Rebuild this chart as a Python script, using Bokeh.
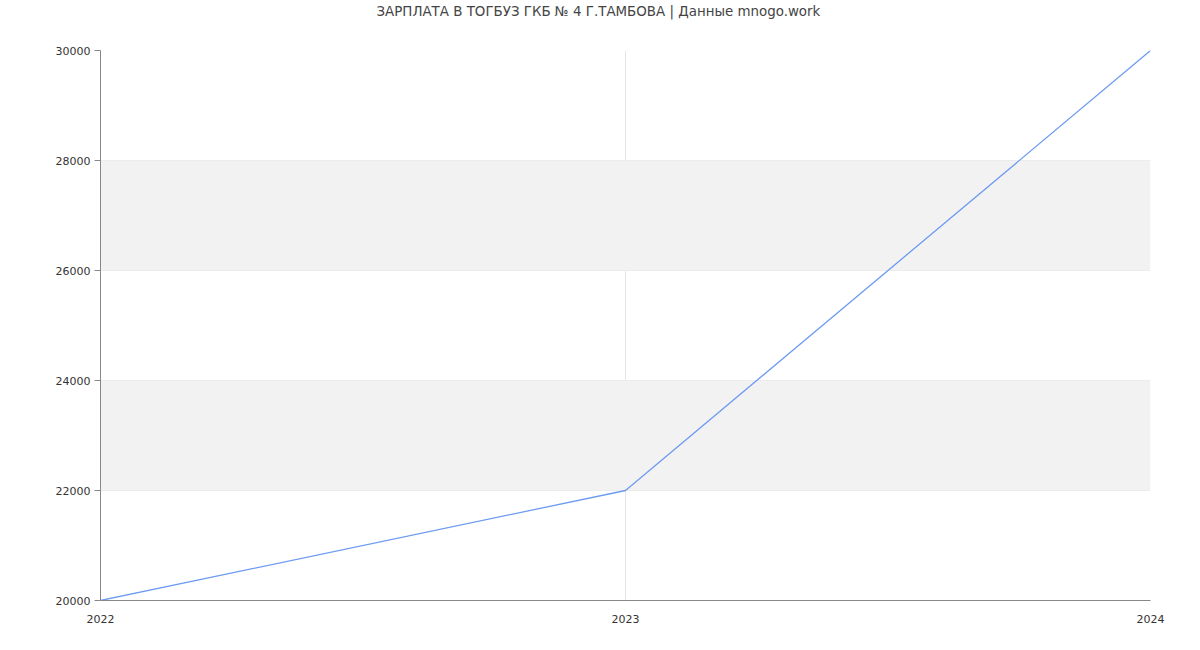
from bokeh.plotting import figure
from bokeh.embed import file_html
from bokeh.resources import INLINE
from bokeh.models import Range1d, FixedTicker, BoxAnnotation, Title

years = [2022, 2023, 2024]
salaries = [20000, 22000, 30000]
y_ticks = [20000, 22000, 24000, 26000, 28000, 30000]
bands = [(22000, 24000), (26000, 28000)]
title_text = "ЗАРПЛАТА В ТОГБУЗ ГКБ № 4 Г.ТАМБОВА | Данные mnogo.work"

p = figure(width=1200, height=650, output_backend="svg", toolbar_location=None,
           x_range=Range1d(2022, 2024), y_range=Range1d(20000, 30000),
           min_border_left=100, min_border_right=50, min_border_top=50, min_border_bottom=50)
p.title = None
# spacer panel next to the frame, real title above it
p.add_layout(Title(text=" ", text_font="DejaVu Sans", text_font_size="13.4px",
                   standoff=13), "above")
p.add_layout(Title(text=title_text, align="left", vertical_align="top", text_font="DejaVu Sans",
                   text_font_size="13.4px", text_font_style="normal", text_color="#444444",
                   standoff=0, offset=276), "above")

for lo, hi in bands:
    p.add_layout(BoxAnnotation(bottom=lo, top=hi, fill_color="#f2f2f2", fill_alpha=1.0, line_alpha=0, level="underlay"))

p.line(years, salaries, line_color="#6d9bf1", line_width=1.3)

p.xaxis.ticker = FixedTicker(ticks=years)
p.yaxis.ticker = FixedTicker(ticks=y_ticks)
for ax in (p.xaxis[0], p.yaxis[0]):
    ax.major_label_text_font = "DejaVu Sans"
    ax.major_label_text_font_size = "11px"
    ax.major_label_text_color = "#333333"
    ax.axis_line_color = "#888888"
    ax.minor_tick_line_color = None
p.xaxis.major_tick_line_color = None
p.xaxis.major_label_standoff = 8
p.yaxis.major_tick_line_color = "#888888"
p.yaxis.major_tick_out = 6
p.yaxis.major_tick_in = 0
p.yaxis.major_label_standoff = 4
p.xgrid.ticker = FixedTicker(ticks=years)
p.ygrid.ticker = FixedTicker(ticks=y_ticks)
p.xgrid.grid_line_color = "#e6e6e6"
p.ygrid.grid_line_color = "#e6e6e6"
p.outline_line_color = None
p.background_fill_color = "white"

open("out.html", "w").write(file_html(p, INLINE))
